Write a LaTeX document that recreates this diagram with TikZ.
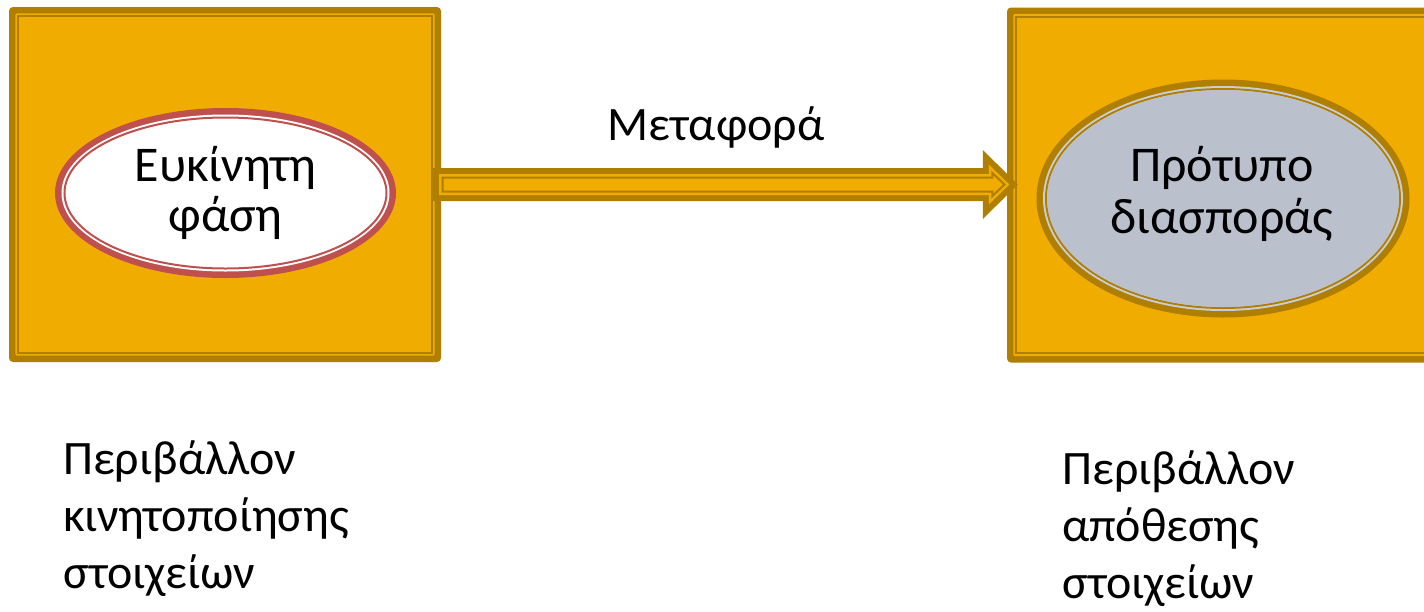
\documentclass[tikz,border=0pt]{standalone}
\usepackage{fontspec}
\setmainfont{Carlito}
\usetikzlibrary{shapes.geometric,calc}
\definecolor{gold}{HTML}{F0AD00}
\definecolor{darkgold}{HTML}{B07F00}
\definecolor{ered}{HTML}{C0504D}
\definecolor{egray}{HTML}{BAC0CC}
\begin{document}
\begin{tikzpicture}[x=1pt,y=-1pt,
  boxnode/.style={rectangle, fill=darkgold, rounded corners=4pt, inner sep=0pt, minimum width=432pt, minimum height=355pt},
  ellnode/.style={ellipse, inner sep=0pt},
  lbl/.style={inner sep=0pt, anchor=base, font=\fontsize{48}{56}\selectfont},
  elbl/.style={inner sep=0pt, anchor=base, font=\fontsize{50}{56}\selectfont},
  lblw/.style={inner sep=0pt, anchor=base west, font=\fontsize{48}{56}\selectfont}]
\clip (0,0) rectangle (1424,611);
\fill[white] (0,0) rectangle (1424,611);

% boxes
\node[boxnode] (lbox) at (225,184.5) {};
\node[boxnode] (rbox) at (1223,185) {};
\foreach \b in {lbox,rbox}{
  \fill[gold, rounded corners=2pt] ([shift={(6.5,6.5)}]\b.north west) rectangle ([shift={(-6.5,-6.5)}]\b.south east);
  \draw[darkgold, line width=2pt] ([shift={(9.5,9.5)}]\b.north west) rectangle ([shift={(-9.5,-9.5)}]\b.south east);
}

% ellipses
\node[ellnode, fill=ered, minimum width=341pt, minimum height=170pt] (le) at (225.5,193) {};
\fill[white] (le.center) ellipse [x radius=164, y radius=78.5];
\draw[ered, line width=2pt] (le.center) ellipse [x radius=161, y radius=75.5];

\node[ellnode, fill=darkgold, minimum width=373pt, minimum height=238pt] (re) at (1223,198.5) {};
\fill[egray!80!white] (re.center) ellipse [x radius=180, y radius=112.5];
\draw[darkgold, line width=2pt] (re.center) ellipse [x radius=177, y radius=109.5];
\fill[egray] (re.center) ellipse [x radius=176, y radius=108.5];

% arrow
\coordinate (as) at ([xshift=-8pt]lbox.east);
\coordinate (at) at ([xshift=11pt]rbox.west |- as);
\fill[darkgold] ($(as)+(0,-16.5)$) -- ($(at)+(-35,-16.5)$) -- ($(at)+(-35,-34.5)$) -- (at)
  -- ($(at)+(-35,34.5)$) -- ($(at)+(-35,16.5)$) -- ($(as)+(0,16.5)$) -- cycle;
\fill[gold] ($(as)+(6,-10.5)$) -- ($(at)+(-29,-10.5)$) -- ($(at)+(-29,-20)$) -- ($(at)+(-8.5,0)$)
  -- ($(at)+(-29,20)$) -- ($(at)+(-29,10.5)$) -- ($(as)+(6,10.5)$) -- cycle;
\draw[darkgold, line width=2pt, line join=miter] ($(as)+(9.5,-7)$) -- ($(at)+(-25.5,-7)$) -- ($(at)+(-25.5,-11.6)$) -- ($(at)+(-13.4,0)$)
  -- ($(at)+(-25.5,11.6)$) -- ($(at)+(-25.5,7)$) -- ($(as)+(9.5,7)$) -- cycle;

% texts
\node[lbl] (t1) at (716,140) {Μεταφορά};
\node[elbl] (e1) at (225.5,181) {Ευκίνητη};
\node[elbl] (e2) at (225.5,231) {φάση};
\node[elbl] (p1) at (1222,181) {Πρότυπο};
\node[elbl] (p2) at (1222,233) {διασποράς};
\node[lblw] (a1) at (63,474) {Περιβάλλον};
\node[lblw] (a2) at (63,531) {κινητοποίησης};
\node[lblw] (a3) at (63,588) {στοιχείων};
\node[lblw] (b1) at (1062,484) {Περιβάλλον};
\node[lblw] (b2) at (1062,541) {απόθεσης};
\node[lblw] (b3) at (1062,598) {στοιχείων};
\end{tikzpicture}
\end{document}
